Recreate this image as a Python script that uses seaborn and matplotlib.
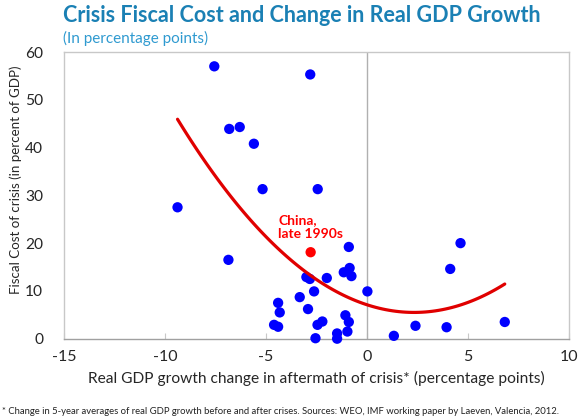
import matplotlib
matplotlib.use("Agg")
import matplotlib.pyplot as plt
import seaborn as sns
import pandas as pd

gdp_change = [-7.56, -2.81, -6.82, -6.30, -5.60, -5.17, -2.44, -9.38, -6.86,
              -0.90, -1.15, -0.86, -0.77, -3.00, -2.83, -1.99, 0.02, -2.62,
              -3.33, -4.40, -2.92, -4.32, -1.07, -0.90, -2.21, -2.45, -4.60,
              -4.40, -0.97, -1.48, -1.48, -2.55, 4.63, 4.12, 6.82, 2.40, 3.94, 1.33]
fiscal_cost = [57.0, 55.3, 43.9, 44.3, 40.8, 31.3, 31.3, 27.5, 16.5,
               19.2, 13.9, 14.8, 13.1, 12.9, 12.5, 12.7, 9.9, 9.9,
               8.7, 7.5, 6.2, 5.5, 4.9, 3.5, 3.6, 2.9, 2.9,
               2.5, 1.5, 1.1, 0.0, 0.1, 20.0, 14.6, 3.5, 2.7, 2.4, 0.6]
china_x = [-2.79]
china_y = [18.1]
china_label = "China,\nlate 1990s"
x_ticks = [-15, -10, -5, 0, 5, 10]
y_ticks = [0, 10, 20, 30, 40, 50, 60]

df = pd.DataFrame({"x": gdp_change, "y": fiscal_cost})
dfc = pd.DataFrame({"x": china_x, "y": china_y})

sns.set_style("white")
plt.rcParams["font.family"] = ["Lato", "DejaVu Sans"]

fig = plt.figure(figsize=(5.78, 4.2), dpi=100)
ax = fig.add_axes([64/578, 1 - 338.7/420, (569 - 64)/578, (338.7 - 52)/420])

sns.scatterplot(data=df, x="x", y="y", ax=ax, color="#0000ff", s=55,
                edgecolor="none", clip_on=False, zorder=3)
sns.regplot(data=df, x="x", y="y", ax=ax, order=2, scatter=False, ci=None,
            truncate=True, line_kws={"color": "#e00000", "lw": 2.3, "zorder": 4})
sns.scatterplot(data=dfc, x="x", y="y", ax=ax, color="#ff0000", s=55,
                edgecolor="none", clip_on=False, zorder=5)
ax.text(-4.4, 23.4, china_label, color="#ff0000", fontsize=10, fontweight="bold",
        ha="left", va="center", linespacing=1.25)

ax.set_xlim(-15, 10)
ax.set_ylim(0, 60)
ax.set_xticks(x_ticks)
ax.set_yticks(y_ticks)
ax.set_xticklabels([str(t) for t in x_ticks])
ax.set_yticklabels([str(t) for t in y_ticks])
ax.axvline(0, color="#b0b0b0", lw=1, zorder=1)
for s in ax.spines.values():
    s.set_color("#c8c8c8")
    s.set_linewidth(1)
ax.spines["bottom"].set_color("#a0a0a0")
ax.tick_params(axis="x", direction="in", length=4, color="#c8c8c8",
               labelsize=11.5, pad=8, bottom=True)
ax.tick_params(axis="y", length=0, labelsize=11.2, pad=15)
ax.set_xlabel("Real GDP growth change in aftermath of crisis* (percentage points)",
              fontsize=11.2, labelpad=5)
ax.set_ylabel("Fiscal Cost of crisis (in percent of GDP)", fontsize=9.6)
ax.yaxis.label.set_va("center")
ax.yaxis.set_label_coords(-0.095, 0.555)

fig.text(63/578, 1 - 16/420, "Crisis Fiscal Cost and Change in Real GDP Growth",
         color="#1a80b4", fontsize=15.5, fontweight="bold", ha="left", va="center")
fig.text(63/578, 1 - 38/420, "(In percentage points)", color="#2f9ad0",
         fontsize=11, ha="left", va="center")
fig.text(2/578, 1 - 411/420,
         "* Change in 5-year averages of real GDP growth before and after crises. "
         "Sources: WEO, IMF working paper by Laeven, Valencia, 2012.",
         fontsize=6.8, ha="left", va="center", color="#222222")

fig.savefig("out.png", dpi=100)
